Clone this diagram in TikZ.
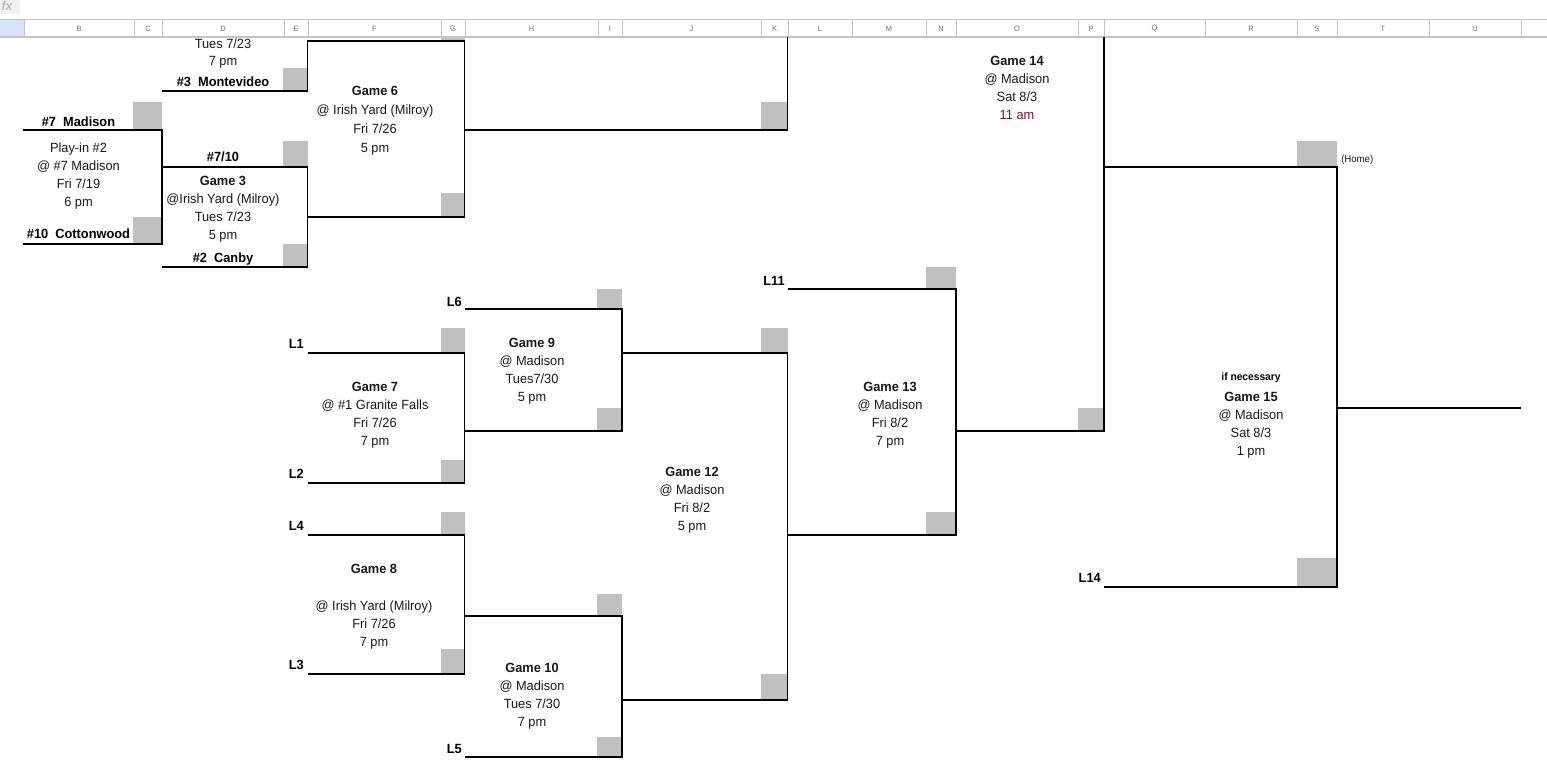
\documentclass[tikz,border=0pt]{standalone}
\usepackage{fontspec}
\setmainfont[FakeStretch=0.96]{Liberation Sans}
\definecolor{cellgray}{HTML}{C0C0C0}
\definecolor{hdrline}{HTML}{C4C4C4}
\definecolor{hdrtext}{HTML}{707070}
\definecolor{cornerblue}{HTML}{D6E4FA}
\definecolor{maroontext}{HTML}{7A1030}
\definecolor{bodytext}{HTML}{1A1A1A}
\newcommand{\gameblock}[5]{%
  \foreach [count=\i] \t in {#5} {\node[txt] (#1-\i) at (#2,{#3+#4*(\i-1)}) {\t};}}
\tikzset{
  bline/.style={line width=0.85pt, black, line join=miter},
  gbox/.style={fill=cellgray, draw=none},
  txt/.style={font=\fontsize{10}{12}\selectfont, text=bodytext, inner sep=0pt, anchor=base, yshift=-0.6pt},
  btxt/.style={font=\fontsize{10}{12}\selectfont\bfseries, text=black, inner sep=0pt, anchor=base, yshift=-0.6pt},
  lbl/.style={btxt, anchor=base east},
  hdr/.style={font=\fontsize{5.8}{6}\selectfont, text=hdrtext, inner sep=0pt, anchor=center},
  hdrsep/.style={draw=hdrline, line width=0.75pt}
}
\begin{document}
\begin{tikzpicture}[x=0.75pt, y=-0.75pt]
\useasboundingbox (0,0) rectangle (1547,770);
\fill[white] (0,0) rectangle (1547,770);
% formula bar remnant and header
\fill[gray!10] (0,0) rectangle (20,14);
\node[font=\fontsize{9.5}{9.5}\selectfont\itshape\bfseries, text=gray!55, inner sep=0pt] (fx) at (7,6) {fx};
\fill[cornerblue] (0,19.5) rectangle (23.5,37);
\draw[hdrsep] (0,19.5) -- (1547,19.5);
\draw[draw=hdrline, line width=1.2pt] (0,37) -- (1547,37);
\foreach \a in {24,134,162,284,308,441,465,598,622,761,788,852,926,956,1078,1104,1205,1297,1337,1429,1521}
  \draw[hdrsep] (\a,19.5) -- (\a,37);
\foreach \a/\b/\l in {24/134/B,134/162/C,162/284/D,284/308/E,308/441/F,441/465/G,465/598/H,598/622/I,622/761/J,761/788/K,788/852/L,852/926/M,926/956/N,956/1078/O,1078/1104/P,1104/1205/Q,1205/1297/R,1297/1337/S,1337/1429/T,1429/1521/U}
  \node[hdr] (h\l) at ({(\a+\b)/2},28.5) {\l};

% gray cells
\foreach \xa/\ya/\xb/\yb in {133/102/162/130, 133/217/162/244,
  283/68/307.5/91, 283/141/307.5/167, 283/244/307.5/267,
  441/37.8/464.5/41, 441/193/464.5/217, 441/328/464.5/353, 441/460/464.5/483, 441/512/464.5/535, 441/649/464.5/674,
  597/289/622/309, 597/408/622/431, 597/594/622/616, 597/737/622/757,
  761/102/787.5/130, 761/328/787.5/353, 761/674/787.5/700,
  926/267/956/289, 926/512/956/535,
  1078/408/1104/431,
  1297/141/1337/167, 1297/558/1337/587}
  \fill[gbox] (\xa,\ya) rectangle (\xb,\yb);

% bracket coordinates
\coordinate (pA) at (23,130);   \coordinate (pB) at (162,130);
\coordinate (pC) at (162,244);  \coordinate (pD) at (23,244);
\coordinate (g3A) at (162,167); \coordinate (g3B) at (307.5,167);
\coordinate (g3C) at (307.5,267); \coordinate (g3D) at (162,267);
\coordinate (mA) at (162,91);   \coordinate (mB) at (307.5,91);
\coordinate (g6A) at (307.5,41); \coordinate (g6B) at (464.5,41);
\coordinate (g6C) at (464.5,217); \coordinate (g6D) at (307.5,217);
\coordinate (g6o) at (464.5,130); \coordinate (k1) at (787.5,130);
\coordinate (k1top) at (787.5,37);
\coordinate (l1A) at (307.5,353); \coordinate (l1B) at (464.5,353);
\coordinate (l2B) at (464.5,483); \coordinate (l2A) at (307.5,483);
\coordinate (l6A) at (464.5,309); \coordinate (l6B) at (622,309);
\coordinate (g9C) at (622,431);   \coordinate (g9D) at (464.5,431);
\coordinate (g9o) at (622,353);   \coordinate (g12A) at (787.5,353);
\coordinate (g12B) at (787.5,700); \coordinate (g10o) at (622,700);
\coordinate (l4A) at (307.5,535); \coordinate (l4B) at (464.5,535);
\coordinate (l3B) at (464.5,674); \coordinate (l3A) at (307.5,674);
\coordinate (g8o) at (464.5,616); \coordinate (g10A) at (622,616);
\coordinate (g10B) at (622,757);  \coordinate (l5A) at (464.5,757);
\coordinate (l11A) at (787.5,289); \coordinate (l11B) at (956,289);
\coordinate (g13B) at (956,535);  \coordinate (g12o) at (787.5,535);
\coordinate (g13o) at (956,431);  \coordinate (g14A) at (1104,431);
\coordinate (g14top) at (1104,37);
\coordinate (g14o) at (1104,167); \coordinate (g15A) at (1337,167);
\coordinate (g15B) at (1337,587); \coordinate (l14A) at (1104,587);
\coordinate (g15o) at (1337,408); \coordinate (champ) at (1521,408);

% bracket lines
\draw[bline] (pA) -- (pB) -- (pC) -- (pD);
\draw[bline] (g3A) -- (g3B) -- (g3C) -- (g3D);
\draw[bline] (mA) -- (mB) -- (g6A) -- (g6B) -- (g6C) -- (g6D);
\draw[bline] (g6o) -- (k1) -- (k1top);
\draw[bline] (l1A) -- (l1B) -- (l2B) -- (l2A);
\draw[bline] (l6A) -- (l6B) -- (g9C) -- (g9D);
\draw[bline] (g9o) -- (g12A) -- (g12B) -- (g10o);
\draw[bline] (l4A) -- (l4B) -- (l3B) -- (l3A);
\draw[bline] (g8o) -- (g10A) -- (g10B) -- (l5A);
\draw[bline] (l11A) -- (l11B) -- (g13B) -- (g12o);
\draw[bline] (g13o) -- (g14A) -- (g14top);
\draw[bline] (g14o) -- (g15A) -- (g15B) -- (l14A);
\draw[bline] (g15o) -- (champ);

% team labels
\node[txt] (g2a) at (223,47.5) {Tues 7/23};
\node[txt] (g2b) at (223,64.5) {7 pm};
\node[btxt] (t3) at (223,85.5) {\#3\ \ Montevideo};
\node[btxt] (t7) at (78.5,125.5) {\#7\ \ Madison};
\node[btxt] (t10) at (78.5,237.5) {\#10\ \ Cottonwood};
\node[btxt] (t710) at (223,160.5) {\#7/10};
\node[btxt] (t2) at (223,261.5) {\#2\ \ Canby};
\node[lbl] (L6) at (462,305.5) {L6};
\node[lbl] (L1) at (304,347.5) {L1};
\node[lbl] (L2) at (304,477.5) {L2};
\node[lbl] (L4) at (304,529.5) {L4};
\node[lbl] (L3) at (304,668.5) {L3};
\node[lbl] (L5) at (462,752.5) {L5};
\node[lbl] (L11) at (785,284.5) {L11};
\node[lbl] (L14) at (1101,581.5) {L14};
\node[txt, anchor=base west, font=\fontsize{7.5}{9}\selectfont] (home) at (1341,162) {(Home)};

% game blocks
\gameblock{pin}{78.5}{151.5}{18}{Play-in \#2, @ \#7 Madison, Fri 7/19, 6 pm}
\gameblock{g3}{223}{184.5}{18}{\textbf{Game 3}, @Irish Yard (Milroy), Tues 7/23, 5 pm}
\gameblock{g6}{375}{94.5}{19}{\textbf{Game 6}, @ Irish Yard (Milroy), Fri 7/26, 5 pm}
\gameblock{g7}{375}{390.5}{18}{\textbf{Game 7}, @ \#1 Granite Falls, Fri 7/26, 7 pm}
\gameblock{g9}{532}{346.5}{18}{\textbf{Game 9}, @ Madison, Tues7/30, 5 pm}
\gameblock{g8}{374}{572.5}{18}{\textbf{Game 8}}
\gameblock{g8b}{374}{609.5}{18}{@ Irish Yard (Milroy), Fri 7/26, 7 pm}
\gameblock{g10}{532}{671.5}{18}{\textbf{Game 10}, @ Madison, Tues 7/30, 7 pm}
\gameblock{g12}{692}{475.5}{18}{\textbf{Game 12}, @ Madison, Fri 8/2, 5 pm}
\gameblock{g13}{890}{390.5}{18}{\textbf{Game 13}, @ Madison, Fri 8/2, 7 pm}
\gameblock{g14}{1017}{64.5}{18}{\textbf{Game 14}, @ Madison, Sat 8/3}
\node[txt, text=maroontext] (g14-4) at (1017,118.5) {11 am};
\node[btxt, font=\fontsize{8}{9}\selectfont\bfseries] (ifnec) at (1251,379.5) {if necessary};
\gameblock{g15}{1251}{400.5}{18}{\textbf{Game 15}, @ Madison, Sat 8/3, 1 pm}
\end{tikzpicture}
\end{document}
